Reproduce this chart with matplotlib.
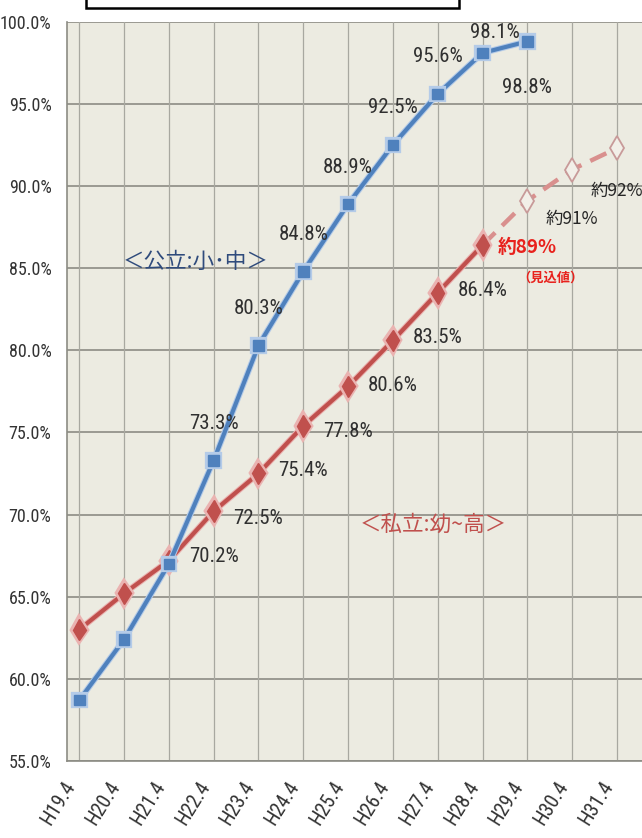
import matplotlib.pyplot as plt
import matplotlib.patheffects as pe
from matplotlib.patches import Rectangle
from matplotlib import font_manager

# data
years = ['H19.4', 'H20.4', 'H21.4', 'H22.4', 'H23.4', 'H24.4', 'H25.4',
         'H26.4', 'H27.4', 'H28.4', 'H29.4', 'H30.4', 'H31.4']
public_rate = [58.7, 62.4, 67.0, 73.3, 80.3, 84.8, 88.9, 92.5, 95.6, 98.1, 98.8]
private_rate = [63.0, 65.2, 67.2, 70.2, 72.5, 75.4, 77.8, 80.6, 83.5, 86.4]
private_proj = [86.4, 89.1, 91.0, 92.3]   # H28 -> H31 (見込値)
proj_labels = ['約89%', '約91%', '約92%']
yticks = [55, 60, 65, 70, 75, 80, 85, 90, 95, 100]

# pick a narrow face if one is installed
installed = {f.name for f in font_manager.fontManager.ttflist}
narrow = [n for n in ['Liberation Sans Narrow', 'Roboto Condensed',
                      'DejaVu Sans Condensed', 'Open Sans Condensed'] if n in installed]
if narrow:
    NUM_FONT = [narrow[0], 'DejaVu Sans']
    NUM_SCALE = 1.0
else:
    NUM_FONT = ['Roboto', 'DejaVu Sans']
    NUM_SCALE = 0.9
JP_FONT = ['Noto Sans CJK JP', 'DejaVu Sans']
BLUE = '#4f81bd'
RED = '#c0504d'

fig = plt.figure(figsize=(6.42, 8.38), dpi=100)
ax = fig.add_axes([0.1039, 0.0919, 0.8961, 0.8822])
ax.set_facecolor('#ecebe1')

# grid
for v in yticks:
    ax.axhline(v, color='#8c8c84', lw=1.2, zorder=1)
for i in range(len(years)):
    ax.axvline(i, color='#a8a8a0', lw=0.9, zorder=1)

halo_b = [pe.Stroke(linewidth=4.5, foreground='#b4cbe8'), pe.Normal()]
halo_r = [pe.Stroke(linewidth=4.5, foreground='#eab3b1'), pe.Normal()]

xs_pub = list(range(len(public_rate)))
xs_priv = list(range(len(private_rate)))
xs_proj = list(range(len(private_rate) - 1, len(private_rate) - 1 + len(private_proj)))

# projected (dashed) part
ax.plot(xs_proj, private_proj, color='#d9908e', lw=3.2, dashes=(4, 2.2),
        solid_capstyle='butt', zorder=3)
ax.plot(xs_proj[1:], private_proj[1:], ls='none', marker='d', ms=12,
        mfc='#f2efe8', mec='#c89a99', mew=1.3, zorder=4)

ax.plot(xs_priv, private_rate, color=RED, lw=3, marker='d', ms=11,
        mec=RED, zorder=5, path_effects=halo_r)
ax.plot(xs_pub, public_rate, color=BLUE, lw=3, marker='s', ms=7.5,
        mec=BLUE, zorder=6, path_effects=halo_b)

lab_kw = dict(textcoords='offset pixels', ha='center', va='center',
              fontsize=15 * NUM_SCALE, color='#303030', family=NUM_FONT, zorder=8)

# blue labels (above, last one below)
for i in range(3, len(public_rate)):
    dx, dy = 0, 37
    if i == 9:
        dx, dy = 12, 20
    elif i == 10:
        dy = -46
    ax.annotate(f'{public_rate[i]:.1f}%', (i, public_rate[i]),
                xytext=(dx, dy), **lab_kw)

# red labels (below)
for i in range(3, len(private_rate)):
    ax.annotate(f'{private_rate[i]:.1f}%', (i, private_rate[i]),
                xytext=(0, -45), **lab_kw)

# projection labels
p0 = xs_proj[1]
ax.annotate(proj_labels[0], (p0, private_proj[1]), xytext=(0, -47),
            textcoords='offset pixels', ha='center', va='center',
            fontsize=13.5, color='#e8211c', fontweight='bold', family=JP_FONT, zorder=8)
ax.annotate('（見込値）', (p0, private_proj[1]), xytext=(23, -77),
            textcoords='offset pixels', ha='center', va='center',
            fontsize=9.5, color='#e8211c', fontweight='bold', family=JP_FONT, zorder=8)
for k, off in zip([2, 3], [-49, -43]):
    ax.annotate(proj_labels[k - 1], (xs_proj[k], private_proj[k]), xytext=(0, off),
                textcoords='offset pixels', ha='center', va='center',
                fontsize=12.5, color='#262626', family=JP_FONT, zorder=8)

# series names
ax.text(2.6, 85.4, '＜公立:小･中＞', ha='center', va='center', fontsize=15.5,
        color='#2f4b7c', family=JP_FONT, zorder=8)
ax.text(7.9, 69.4, '＜私立:幼~高＞', ha='center', va='center', fontsize=15.5,
        color='#c0504d', family=JP_FONT, zorder=8)

ax.set_xlim(-0.281, 12.56)
ax.set_ylim(55, 100)
ax.set_yticks(yticks)
ax.set_yticklabels([f'{v:.1f}%' for v in yticks], family=NUM_FONT,
                   fontsize=13 * NUM_SCALE, color='#333333')
ax.set_xticks(range(len(years)))
ax.set_xticklabels(years, rotation=58, ha='right', family=NUM_FONT,
                   fontsize=14.5 * NUM_SCALE, color='#333333')
ax.tick_params(axis='y', length=0, pad=11)
ax.tick_params(axis='x', length=0, pad=12)
for s in ['top', 'right']:
    ax.spines[s].set_visible(False)
for s in ['left', 'bottom']:
    ax.spines[s].set_color('#8c8c84')
    ax.spines[s].set_linewidth(1.2)

# title box cut off at the top edge
fig.patches.append(Rectangle((86 / 642, 1 - 8 / 838), 373 / 642, 20 / 838,
                             transform=fig.transFigure, fill=True,
                             facecolor='white', edgecolor='black', lw=1.8))

fig.savefig('out.png', dpi=100)
